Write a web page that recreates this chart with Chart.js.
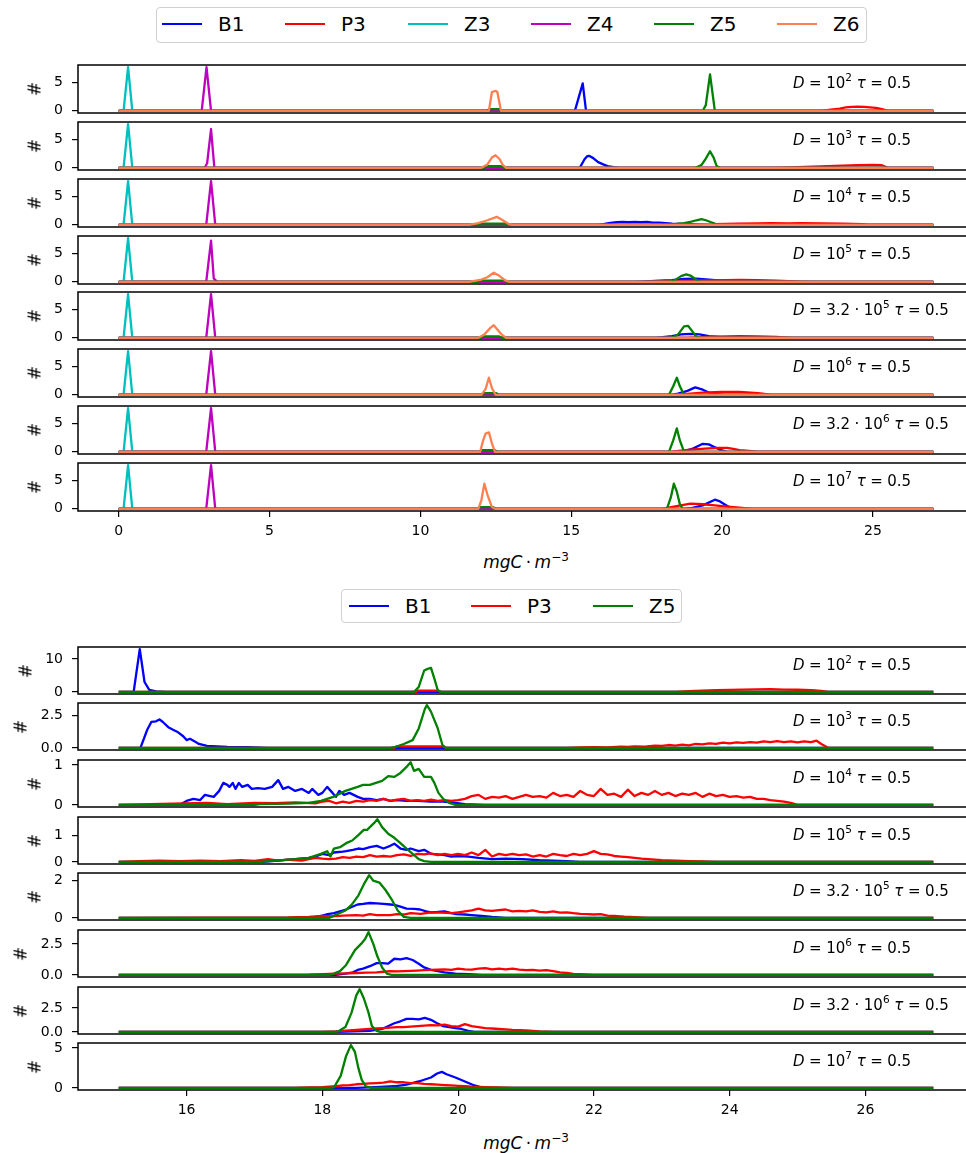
<!DOCTYPE html>
<html>
<head>
<meta charset="utf-8">
<script src="https://cdn.jsdelivr.net/npm/chart.js@4.4.1/dist/chart.umd.min.js"></script>
<style>
html, body { margin: 0; padding: 0; background: #fff; }
body { width: 966px; height: 1153px; overflow: hidden; position: relative; font-family: "DejaVu Sans", sans-serif; color: #000; }
canvas { position: absolute; left: 0; }
.lg { position: absolute; border: 1px solid #d0d0d0; border-radius: 4px; background: #fff; box-sizing: border-box; }
.lgl { position: absolute; width: 40px; height: 2.6px; }
.lgt { position: absolute; font-size: 20px; line-height: 20px; white-space: nowrap; }
.ann { position: absolute; left: 793px; font-size: 15px; line-height: 15px; white-space: nowrap; }
.ann sup { font-size: 10.5px; line-height: 0; position: relative; top: -1px; }
.ann .op { margin: 0 4.5px; }
.yl { position: absolute; font-size: 17px; line-height: 17px; transform: translate(-50%, -50%) rotate(-90deg); }
.xl { position: absolute; font-size: 17px; line-height: 17px; white-space: nowrap; transform: translate(-50%, -50%); }
.xl sup { font-size: 12px; line-height: 0; }
</style>
</head>
<body>
<script>
// Stacked histograms of carbon concentration per diffusion D (two groups of 8 panels).
Chart.defaults.font.family = "'DejaVu Sans', sans-serif";
Chart.defaults.font.size = 14;
Chart.defaults.color = "#000";

const topNames = ["B1", "P3", "Z3", "Z4", "Z5", "Z6"];
const topColors = ["#0000ff", "#ff0000", "#00bfbf", "#bf00bf", "#008000", "#ff7f50"];
const botNames = ["B1", "P3", "Z5"];
const botColors = ["#0000ff", "#ff0000", "#008000"];
const dCoef = ["", "", "", "", "3.2", "", "3.2", ""];
const dExp = ["2", "3", "4", "5", "5", "6", "6", "7"];
const tauVal = "0.5";
const topXTicks = [0, 5, 10, 15, 20, 25];
const botXTicks = [16, 18, 20, 22, 24, 26];
const topYTicks = [0, 5];
const topYText = ["0", "5"];
const botYTicks = [[0, 10], [0, 2.5], [0, 1], [0, 1], [0, 2], [0, 2.5], [0, 2.5], [0, 5]];
const botYText = [["0", "10"], ["0.0", "2.5"], ["0", "1"], ["0", "1"], ["0", "2"], ["0.0", "2.5"], ["0.0", "2.5"], ["0", "5"]];

// ---- top group: x from 0 to 27 ----
const topB1 = [
  [[0,0],[15.12,0],[15.38,4.8],[15.49,0],[27,0]],
  [[0,0],[15.28,0],[15.44,1.5],[15.52,2.0],[15.59,2.1],[15.73,1.7],[15.89,1.0],[16.06,0.6],[16.2,0.3],[16.4,0.1],[16.61,0],[27,0]],
  [[0,0],[15.9,0],[16.1,0.15],[16.3,0.35],[16.5,0.45],[16.71,0.5],[16.9,0.45],[17.11,0.5],[17.3,0.45],[17.52,0.5],[17.7,0.4],[17.93,0.4],[18.13,0.3],[18.34,0.2],[18.6,0.15],[18.95,0.1],[19.3,0.05],[19.6,0],[27,0]],
  [[0,0],[17.1,0],[17.32,0.05],[17.93,0.2],[18.34,0.3],[18.74,0.5],[19.15,0.55],[19.56,0.4],[19.97,0.2],[20.58,0.1],[21.39,0],[27,0]],
  [[0,0],[17.8,0],[18.03,0.1],[18.34,0.3],[18.64,0.6],[18.95,0.7],[19.25,0.6],[19.56,0.3],[19.97,0.1],[20.37,0],[27,0]],
  [[0,0],[18.3,0],[18.54,0.2],[18.85,0.7],[19.11,1.3],[19.36,0.9],[19.56,0.4],[19.87,0.1],[20.07,0],[27,0]],
  [[0,0],[18.6,0],[18.74,0.1],[19.05,0.6],[19.36,1.4],[19.56,1.3],[19.76,0.8],[19.97,0.3],[20.17,0],[27,0]],
  [[0,0],[18.7,0],[18.95,0.1],[19.36,0.6],[19.76,1.6],[19.93,1.3],[20.17,0.5],[20.37,0],[27,0]]
];
const topP3 = [
  [[0,0],[23.3,0],[23.6,0.2],[23.9,0.4],[24.1,0.6],[24.3,0.7],[24.5,0.75],[24.7,0.7],[24.9,0.6],[25.1,0.5],[25.3,0.3],[25.5,0],[27,0]],
  [[0,0],[21.6,0],[22.0,0.05],[22.5,0.1],[23.0,0.2],[23.5,0.3],[24.0,0.4],[24.5,0.45],[25.0,0.5],[25.3,0.45],[25.5,0],[27,0]],
  [[0,0],[19.6,0],[19.76,0.1],[20.5,0.2],[21.2,0.25],[21.6,0.3],[22.2,0.25],[22.6,0.3],[23.3,0.25],[24.0,0.2],[24.65,0.1],[24.86,0],[27,0]],
  [[0,0],[17.3,0],[17.6,0.05],[18.5,0.15],[19.56,0.25],[20.58,0.35],[21.19,0.3],[21.8,0.2],[22.62,0.05],[23.02,0],[27,0]],
  [[0,0],[18.8,0],[18.95,0.05],[19.76,0.2],[20.58,0.3],[21.19,0.25],[21.8,0.15],[22.21,0.05],[22.41,0],[27,0]],
  [[0,0],[18.2,0],[18.54,0.05],[19.36,0.4],[19.97,0.5],[20.58,0.5],[21.19,0.3],[21.6,0.05],[21.8,0],[27,0]],
  [[0,0],[18.1,0],[18.34,0.05],[18.95,0.4],[19.56,0.6],[19.87,0.7],[20.17,0.7],[20.37,0.5],[20.58,0.3],[20.99,0.1],[21.19,0],[27,0]],
  [[0,0],[18.0,0],[18.13,0.1],[18.54,0.5],[18.95,0.9],[19.36,0.8],[19.76,0.6],[20.17,0.4],[20.58,0.2],[20.99,0],[27,0]]
];
const topZ3 = [
  [[0,0],[0.16,0],[0.31,7.65],[0.45,0],[27,0]],
  [[0,0],[0.16,0],[0.31,7.65],[0.45,0],[27,0]],
  [[0,0],[0.16,0],[0.31,7.65],[0.45,0],[27,0]],
  [[0,0],[0.16,0],[0.31,7.65],[0.45,0],[27,0]],
  [[0,0],[0.16,0],[0.31,7.65],[0.45,0],[27,0]],
  [[0,0],[0.16,0],[0.31,7.65],[0.45,0],[27,0]],
  [[0,0],[0.16,0],[0.31,7.65],[0.45,0],[27,0]],
  [[0,0],[0.16,0],[0.31,7.65],[0.45,0],[27,0]]
];
const topZ4 = [
  [[0,0],[2.75,0],[2.91,7.65],[3.06,0],[27,0]],
  [[0,0],[2.85,0],[2.93,0.8],[3.06,6.8],[3.17,0],[27,0]],
  [[0,0],[2.9,0],[3.06,7.65],[3.2,0],[27,0]],
  [[0,0],[2.9,0],[3.06,7.2],[3.15,0.6],[3.26,0],[27,0]],
  [[0,0],[2.9,0],[3.06,7.65],[3.2,0],[27,0]],
  [[0,0],[2.9,0],[3.06,7.65],[3.2,0],[27,0]],
  [[0,0],[2.9,0],[3.06,7.65],[3.2,0],[27,0]],
  [[0,0],[2.9,0],[3.06,7.65],[3.2,0],[27,0]]
];
const topZ5 = [
  [[0,0],[12.2,0],[12.3,0.3],[12.6,0.3],[12.7,0],[19.36,0],[19.46,1.0],[19.6,6.4],[19.76,0],[27,0]],
  [[0,0],[12.1,0],[12.25,0.3],[12.65,0.3],[12.8,0],[19.11,0],[19.32,0.5],[19.46,1.6],[19.6,2.9],[19.72,1.8],[19.82,0.3],[19.93,0],[27,0]],
  [[0,0],[11.8,0],[12.0,0.2],[12.8,0.2],[13.0,0],[18.34,0],[18.54,0.2],[18.74,0.3],[18.95,0.5],[19.15,0.8],[19.32,1.0],[19.46,0.8],[19.66,0.4],[19.82,0.1],[19.97,0],[27,0]],
  [[0,0],[11.9,0],[12.05,0.2],[12.75,0.2],[12.9,0],[18.24,0],[18.44,0.3],[18.64,1.0],[18.81,1.3],[18.95,1.1],[19.11,0.5],[19.25,0],[27,0]],
  [[0,0],[12.0,0],[12.1,0.25],[12.6,0.25],[12.7,0],[18.34,0],[18.54,0.6],[18.74,2.0],[18.87,2.1],[18.99,1.3],[19.15,0.2],[19.25,0],[27,0]],
  [[0,0],[12.0,0],[12.1,0.3],[12.5,0.3],[12.6,0],[18.24,0],[18.38,1.5],[18.5,3.0],[18.6,1.5],[18.74,0],[27,0]],
  [[0,0],[11.95,0],[12.05,0.3],[12.45,0.3],[12.55,0],[18.24,0],[18.38,2.0],[18.5,4.1],[18.6,2.0],[18.74,0],[27,0]],
  [[0,0],[11.9,0],[12.0,0.3],[12.4,0.3],[12.5,0],[18.17,0],[18.3,2.0],[18.4,4.4],[18.5,3.0],[18.6,0.8],[18.7,0],[27,0]]
];
const topZ6 = [
  [[0,0],[12.27,0],[12.37,3.3],[12.5,3.5],[12.55,3.3],[12.67,0],[27,0]],
  [[0,0],[12.02,0],[12.22,0.6],[12.37,1.8],[12.49,2.2],[12.63,1.5],[12.73,0.5],[12.84,0],[27,0]],
  [[0,0],[11.61,0],[11.92,0.3],[12.22,0.8],[12.53,1.4],[12.73,0.8],[12.94,0.1],[13.04,0],[27,0]],
  [[0,0],[11.61,0],[12.02,0.4],[12.22,0.8],[12.43,1.6],[12.63,1.0],[12.8,0.3],[12.94,0],[27,0]],
  [[0,0],[11.92,0],[12.12,0.6],[12.33,1.8],[12.43,2.2],[12.53,1.6],[12.67,0.7],[12.84,0],[27,0]],
  [[0,0],[12.02,0],[12.16,1.0],[12.27,3.0],[12.37,1.2],[12.49,0],[27,0]],
  [[0,0],[11.98,0],[12.08,2.0],[12.16,3.2],[12.27,3.4],[12.37,1.5],[12.47,0],[27,0]],
  [[0,0],[11.92,0],[12.02,1.5],[12.12,4.4],[12.22,2.5],[12.37,0.3],[12.47,0],[27,0]]
];

// ---- bottom group: x from 15 to 27 ----
const botB1 = [
  [[15,0],[15.22,0],[15.31,13.0],[15.38,3.0],[15.45,0.6],[15.55,0.15],[15.7,0],[27,0]],
  [[15,0],[15.32,0],[15.42,1.4],[15.48,2.0],[15.55,2.05],[15.6,2.2],[15.65,2.0],[15.73,1.6],[15.8,1.4],[15.86,1.25],[15.95,0.9],[16.0,0.6],[16.05,0.7],[16.12,0.5],[16.18,0.3],[16.3,0.15],[16.45,0.12],[16.6,0.08],[16.9,0.05],[17.2,0],[27,0]],
  [[15,0],[15.9,0],[16.0,0.1],[16.1,0.15],[16.2,0.12],[16.27,0.25],[16.35,0.22],[16.4,0.2],[16.48,0.35],[16.54,0.55],[16.6,0.5],[16.63,0.45],[16.68,0.55],[16.72,0.4],[16.77,0.55],[16.82,0.45],[16.9,0.5],[16.96,0.4],[17.05,0.42],[17.15,0.4],[17.26,0.45],[17.35,0.62],[17.42,0.4],[17.5,0.45],[17.6,0.35],[17.7,0.4],[17.8,0.3],[17.85,0.4],[17.94,0.25],[18.0,0.3],[18.07,0.45],[18.15,0.3],[18.2,0.2],[18.25,0.35],[18.32,0.25],[18.4,0.3],[18.52,0.2],[18.6,0.15],[18.7,0.15],[18.8,0.12],[18.9,0.15],[19.0,0.1],[19.1,0.12],[19.24,0.1],[19.4,0.1],[19.6,0.08],[19.78,0.08],[19.96,0.05],[20.1,0.02],[20.4,0],[27,0]],
  [[15,0],[17.1,0],[17.26,0.03],[17.5,0.08],[17.6,0.1],[17.8,0.15],[17.9,0.2],[18.0,0.3],[18.1,0.25],[18.17,0.35],[18.3,0.38],[18.35,0.4],[18.45,0.45],[18.53,0.5],[18.6,0.48],[18.7,0.55],[18.8,0.6],[18.9,0.5],[19.0,0.6],[19.06,0.68],[19.15,0.5],[19.24,0.45],[19.3,0.5],[19.42,0.4],[19.5,0.45],[19.6,0.3],[19.7,0.28],[19.8,0.25],[19.9,0.2],[20.0,0.22],[20.15,0.2],[20.3,0.15],[20.5,0.1],[20.7,0.12],[20.95,0.1],[21.2,0.06],[21.4,0.05],[21.6,0.03],[21.8,0],[27,0]],
  [[15,0],[17.8,0],[17.9,0.05],[18.0,0.12],[18.08,0.2],[18.17,0.25],[18.26,0.35],[18.35,0.45],[18.44,0.6],[18.52,0.72],[18.6,0.75],[18.7,0.8],[18.8,0.78],[18.9,0.75],[19.0,0.72],[19.06,0.7],[19.15,0.6],[19.24,0.5],[19.35,0.48],[19.44,0.45],[19.53,0.35],[19.6,0.3],[19.7,0.32],[19.8,0.35],[19.9,0.25],[19.97,0.2],[20.1,0.18],[20.2,0.15],[20.35,0.1],[20.5,0.05],[20.7,0],[27,0]],
  [[15,0],[18.2,0],[18.34,0.1],[18.45,0.2],[18.52,0.4],[18.6,0.5],[18.7,0.7],[18.8,0.95],[18.88,0.95],[18.97,0.9],[19.06,1.3],[19.15,1.25],[19.24,1.35],[19.33,1.2],[19.42,0.9],[19.5,0.6],[19.6,0.4],[19.7,0.3],[19.8,0.2],[19.96,0.1],[20.15,0.05],[20.35,0],[27,0]],
  [[15,0],[18.2,0],[18.34,0.02],[18.7,0.1],[18.88,0.3],[19.06,0.9],[19.15,1.1],[19.24,1.35],[19.33,1.35],[19.42,1.3],[19.51,1.45],[19.6,1.25],[19.69,0.9],[19.78,0.6],[19.96,0.4],[20.05,0.3],[20.15,0.1],[20.24,0],[27,0]],
  [[15,0],[18.5,0],[18.7,0.05],[19.06,0.2],[19.24,0.4],[19.42,0.8],[19.6,1.3],[19.69,1.8],[19.76,2.0],[19.83,1.7],[19.96,1.3],[20.1,0.8],[20.24,0.3],[20.33,0.1],[20.42,0],[27,0]]
];
const botP3 = [
  [[15,0],[19.38,0],[19.42,0.4],[19.7,0.4],[19.74,0],[23.2,0],[23.4,0.2],[23.6,0.35],[23.8,0.5],[24.0,0.6],[24.2,0.7],[24.4,0.75],[24.6,0.8],[24.8,0.7],[25.0,0.65],[25.2,0.55],[25.35,0.3],[25.45,0],[27,0]],
  [[15,0],[19.06,0],[19.1,0.12],[19.78,0.12],[19.82,0],[21.6,0],[21.8,0.03],[22.0,0.06],[22.2,0.04],[22.4,0.1],[22.5,0.07],[22.6,0.12],[22.75,0.1],[22.9,0.18],[23.0,0.15],[23.1,0.22],[23.2,0.18],[23.3,0.25],[23.4,0.2],[23.5,0.3],[23.6,0.27],[23.7,0.35],[23.8,0.3],[23.9,0.4],[24.0,0.35],[24.1,0.42],[24.2,0.38],[24.3,0.45],[24.4,0.4],[24.5,0.5],[24.6,0.45],[24.7,0.52],[24.8,0.45],[24.9,0.5],[25.0,0.42],[25.1,0.5],[25.2,0.45],[25.28,0.55],[25.35,0.3],[25.45,0],[27,0]],
  [[15,0],[15.8,0.03],[16.3,0.05],[16.6,0.02],[17.0,0.05],[17.3,0.04],[17.6,0.06],[17.9,0.04],[18.0,0.08],[18.1,0.1],[18.2,0.04],[18.3,0.08],[18.4,0.05],[18.5,0.1],[18.6,0.08],[18.7,0.12],[18.8,0.1],[18.9,0.15],[19.0,0.1],[19.1,0.13],[19.2,0.15],[19.3,0.1],[19.4,0.12],[19.5,0.1],[19.6,0.13],[19.7,0.1],[19.8,0.12],[19.9,0.1],[20.0,0.12],[20.1,0.15],[20.2,0.22],[20.3,0.25],[20.4,0.15],[20.5,0.2],[20.6,0.18],[20.7,0.22],[20.8,0.15],[20.9,0.2],[21.0,0.25],[21.1,0.2],[21.2,0.22],[21.3,0.18],[21.4,0.3],[21.5,0.22],[21.6,0.25],[21.7,0.2],[21.8,0.35],[21.9,0.25],[22.0,0.22],[22.1,0.4],[22.2,0.25],[22.3,0.28],[22.4,0.2],[22.5,0.38],[22.6,0.22],[22.7,0.3],[22.8,0.25],[22.9,0.35],[23.0,0.25],[23.1,0.3],[23.2,0.22],[23.3,0.28],[23.4,0.25],[23.5,0.3],[23.6,0.2],[23.7,0.28],[23.8,0.22],[23.9,0.25],[24.0,0.2],[24.1,0.22],[24.2,0.18],[24.3,0.2],[24.4,0.15],[24.5,0.15],[24.6,0.12],[24.7,0.1],[24.8,0.08],[24.9,0.05],[25.0,0],[27,0]],
  [[15,0],[15.3,0.03],[15.6,0.05],[15.9,0.03],[16.2,0.05],[16.5,0.03],[16.8,0.06],[17.0,0.04],[17.2,0.1],[17.35,0.05],[17.5,0.08],[17.7,0.05],[17.8,0.1],[17.9,0.15],[18.0,0.12],[18.1,0.1],[18.2,0.12],[18.3,0.18],[18.4,0.15],[18.5,0.2],[18.6,0.18],[18.7,0.25],[18.8,0.2],[18.9,0.22],[19.0,0.2],[19.1,0.25],[19.2,0.28],[19.3,0.22],[19.4,0.3],[19.5,0.28],[19.6,0.32],[19.7,0.25],[19.8,0.3],[19.9,0.25],[20.0,0.3],[20.1,0.25],[20.2,0.35],[20.3,0.25],[20.4,0.45],[20.5,0.2],[20.6,0.3],[20.7,0.25],[20.8,0.3],[20.9,0.25],[21.0,0.28],[21.1,0.2],[21.2,0.25],[21.3,0.2],[21.4,0.3],[21.5,0.25],[21.6,0.22],[21.7,0.3],[21.8,0.25],[21.9,0.3],[22.0,0.4],[22.1,0.3],[22.2,0.28],[22.3,0.22],[22.4,0.2],[22.5,0.18],[22.6,0.15],[22.7,0.12],[22.8,0.1],[22.9,0.08],[23.0,0.06],[23.2,0.05],[23.4,0.03],[23.6,0.02],[23.8,0],[27,0]],
  [[15,0],[17.5,0.02],[17.8,0.05],[18.0,0.1],[18.15,0.08],[18.3,0.12],[18.5,0.15],[18.6,0.12],[18.7,0.2],[18.8,0.15],[19.0,0.15],[19.1,0.2],[19.2,0.18],[19.3,0.25],[19.45,0.22],[19.6,0.3],[19.75,0.28],[19.9,0.25],[20.0,0.3],[20.1,0.35],[20.2,0.4],[20.3,0.5],[20.4,0.4],[20.5,0.38],[20.6,0.42],[20.7,0.45],[20.8,0.35],[20.9,0.38],[21.0,0.35],[21.1,0.4],[21.2,0.32],[21.3,0.3],[21.4,0.35],[21.5,0.28],[21.6,0.3],[21.7,0.25],[21.8,0.22],[21.9,0.2],[22.0,0.18],[22.1,0.2],[22.2,0.12],[22.3,0.1],[22.45,0.06],[22.6,0.04],[22.8,0],[27,0]],
  [[15,0],[17.8,0.02],[18.0,0.05],[18.2,0.1],[18.35,0.12],[18.5,0.15],[18.65,0.18],[18.8,0.2],[18.9,0.25],[19.0,0.3],[19.1,0.28],[19.2,0.3],[19.3,0.32],[19.4,0.35],[19.5,0.38],[19.6,0.4],[19.7,0.42],[19.8,0.45],[19.9,0.4],[20.0,0.5],[20.1,0.45],[20.2,0.42],[20.3,0.5],[20.4,0.55],[20.5,0.45],[20.6,0.5],[20.7,0.45],[20.8,0.5],[20.9,0.42],[21.0,0.38],[21.1,0.4],[21.2,0.35],[21.3,0.38],[21.4,0.3],[21.5,0.2],[21.6,0.15],[21.7,0.08],[21.8,0.05],[22.0,0],[27,0]],
  [[15,0],[18.0,0],[18.2,0.05],[18.35,0.12],[18.5,0.2],[18.65,0.28],[18.8,0.35],[18.9,0.4],[19.0,0.45],[19.1,0.5],[19.2,0.5],[19.3,0.55],[19.4,0.6],[19.5,0.65],[19.6,0.7],[19.7,0.68],[19.8,0.75],[19.9,0.6],[20.0,0.55],[20.1,0.8],[20.2,0.6],[20.3,0.5],[20.4,0.4],[20.5,0.35],[20.6,0.3],[20.7,0.25],[20.8,0.2],[20.9,0.18],[21.0,0.15],[21.2,0.05],[21.4,0],[27,0]],
  [[15,0],[17.6,0],[17.8,0.05],[18.0,0.1],[18.1,0.15],[18.2,0.2],[18.3,0.3],[18.4,0.35],[18.5,0.45],[18.6,0.5],[18.7,0.55],[18.8,0.6],[18.9,0.65],[19.0,0.8],[19.1,0.7],[19.2,0.7],[19.3,0.6],[19.4,0.6],[19.5,0.5],[19.6,0.45],[19.7,0.4],[19.8,0.35],[19.9,0.3],[20.0,0.25],[20.1,0.2],[20.2,0.15],[20.3,0.12],[20.4,0.1],[20.6,0.05],[20.8,0],[27,0]]
];
const botZ5 = [
  [[15,0],[19.35,0],[19.42,1.5],[19.5,6.5],[19.55,7.0],[19.6,7.3],[19.65,4.0],[19.7,0.5],[19.75,0],[27,0]],
  [[15,0],[19.0,0],[19.06,0.05],[19.2,0.3],[19.33,0.6],[19.42,1.5],[19.51,3.0],[19.54,3.3],[19.6,2.8],[19.7,1.5],[19.77,0.2],[19.82,0],[27,0]],
  [[15,0],[17.0,0],[17.08,0.02],[17.5,0.03],[17.8,0.05],[17.98,0.1],[18.16,0.2],[18.34,0.35],[18.43,0.4],[18.52,0.45],[18.6,0.5],[18.7,0.5],[18.79,0.55],[18.88,0.6],[18.97,0.72],[19.06,0.7],[19.15,0.8],[19.24,0.95],[19.3,1.07],[19.35,0.85],[19.42,0.9],[19.5,0.7],[19.6,0.7],[19.65,0.55],[19.71,0.3],[19.78,0.15],[19.87,0.05],[19.96,0],[27,0]],
  [[15,0],[17.1,0],[17.17,0.02],[17.6,0.1],[17.8,0.15],[17.98,0.3],[18.07,0.4],[18.12,0.2],[18.17,0.5],[18.26,0.55],[18.35,0.7],[18.44,0.8],[18.53,1.0],[18.61,1.2],[18.66,1.2],[18.7,1.3],[18.76,1.45],[18.81,1.6],[18.88,1.3],[18.97,1.05],[19.06,0.9],[19.15,0.7],[19.24,0.5],[19.33,0.3],[19.42,0.1],[19.5,0.03],[19.6,0],[27,0]],
  [[15,0],[18.1,0],[18.16,0.1],[18.34,0.4],[18.43,0.7],[18.53,1.2],[18.61,1.8],[18.69,2.3],[18.75,2.0],[18.84,1.9],[18.93,1.5],[19.02,1.0],[19.11,0.4],[19.2,0.05],[19.3,0],[27,0]],
  [[15,0],[18.1,0],[18.17,0.1],[18.26,0.3],[18.35,0.8],[18.48,2.0],[18.57,2.5],[18.63,2.9],[18.68,3.45],[18.75,2.5],[18.81,1.5],[18.88,0.6],[18.95,0.1],[19.02,0],[27,0]],
  [[15,0],[18.18,0],[18.23,0.05],[18.34,0.5],[18.43,2.0],[18.5,3.8],[18.55,4.45],[18.61,3.5],[18.68,2.0],[18.73,0.6],[18.8,0.1],[18.85,0],[27,0]],
  [[15,0],[18.1,0],[18.17,0.05],[18.27,1.5],[18.35,4.0],[18.42,5.35],[18.48,4.5],[18.53,2.5],[18.58,1.0],[18.64,0.2],[18.72,0],[27,0]]
];

// ---- layout ----
const topTops = [65, 122, 179, 236, 292, 349, 406, 463];
const botTops = [647, 703, 760, 817, 873, 930, 987, 1043];
const AX_LEFT = 78, AX_RIGHT = 974, CW = 980, TICK = 6, TPAD = 9, XAXIS_H = 34, PADV = 10;

const frame = {
  id: "frame",
  afterDatasetsDraw(c) {
    const a = c.chartArea, x = c.ctx;
    x.save(); x.strokeStyle = "#000"; x.lineWidth = 1.5;
    x.strokeRect(a.left, a.top, a.right - a.left, a.bottom - a.top);
    x.restore();
  }
};

const meas = document.createElement("canvas").getContext("2d");
meas.font = "14px 'DejaVu Sans'";

function el(cls, html, css) {
  const d = document.createElement("div");
  d.className = cls; d.innerHTML = html; Object.assign(d.style, css);
  document.body.appendChild(d); return d;
}

function panel(o) {
  const cv = document.createElement("canvas");
  const h = o.h + PADV + (o.showX ? XAXIS_H : PADV);
  cv.width = CW; cv.height = h;
  cv.style.width = CW + "px"; cv.style.height = h + "px"; cv.style.top = (o.top - PADV) + "px";
  document.body.appendChild(cv);
  const m = Math.max(...o.series.flat().map(p => p[1]));
  const n = o.series.length;
  new Chart(cv, {
    type: "line",
    data: { datasets: o.series.map((d, i) => ({
      label: o.names[i], data: d, borderColor: o.colors[i], backgroundColor: o.colors[i],
      borderWidth: 2.3, pointRadius: 0, tension: 0, fill: false, order: n - i, clip: 0,
      borderJoinStyle: "round"
    })) },
    options: {
      responsive: false, animation: false, events: [],
      layout: { padding: { left: 0, right: CW - AX_RIGHT, top: PADV, bottom: o.showX ? 0 : PADV } },
      plugins: { legend: { display: false }, tooltip: { enabled: false } },
      scales: {
        x: { type: "linear", min: o.xmin, max: o.xmax, display: o.showX,
             afterFit: s => { if (o.showX) s.height = XAXIS_H; s.paddingLeft = 0; s.paddingRight = 0; },
             afterBuildTicks: s => { s.ticks = o.xTicks.map(v => ({ value: v })); },
             ticks: { padding: 6, maxRotation: 0, autoSkip: false, font: { size: 14 }, callback: v => String(v) },
             grid: { drawOnChartArea: false, tickLength: TICK, color: "#000", lineWidth: 1.2 },
             border: { display: false } },
        y: { type: "linear", min: -0.05 * m, max: 1.05 * m,
             afterFit: s => { s.width = AX_LEFT; s.paddingTop = 0; s.paddingBottom = 0; },
             afterBuildTicks: s => { s.ticks = o.yTicks.map(v => ({ value: v })); },
             ticks: { padding: TPAD, autoSkip: false, font: { size: 14 }, callback: (v, i) => o.yText[i] },
             grid: { drawOnChartArea: false, tickLength: TICK, color: "#000", lineWidth: 1.2 },
             border: { display: false } }
      }
    },
    plugins: [frame]
  });
  // y label "#", placed left of the widest tick label
  const w = Math.max(...o.yText.map(t => meas.measureText(t).width));
  el("yl", "#", { left: (AX_LEFT - TICK - TPAD - w - 19.5) + "px", top: (o.top + o.h / 2) + "px" });
  const coef = o.coef ? o.coef + '<span class="op">·</span>' : "";
  el("ann", `<i>D</i><span class="op">=</span>${coef}10<sup>${o.exp}</sup>&nbsp;<i>τ</i><span class="op">=</span>${tauVal}`,
     { top: (o.top + 10.5) + "px" });
}

function legend(box, names, colors, x0, stride, yc) {
  el("lg", "", { left: box[0] + "px", top: box[1] + "px", width: box[2] + "px", height: box[3] + "px" });
  names.forEach((nm, i) => {
    el("lgl", "", { left: (x0 + i * stride) + "px", top: (yc - 1.3) + "px", background: colors[i] });
    el("lgt", nm, { left: (x0 + i * stride + 56) + "px", top: (yc - 10) + "px" });
  });
}

legend([156, 7, 711, 36], topNames, topColors, 162, 123, 24);
legend([341, 589, 341, 34], botNames, botColors, 349, 122, 606);

const topSeries = [topB1, topP3, topZ3, topZ4, topZ5, topZ6];
topTops.forEach((t, k) => panel({
  top: t, h: 48, showX: k === 7, xmin: -1.35, xmax: 28.35, xTicks: topXTicks,
  yTicks: topYTicks, yText: topYText, names: topNames, colors: topColors,
  series: topSeries.map(s => s[k]), coef: dCoef[k], exp: dExp[k]
}));
const botSeries = [botB1, botP3, botZ5];
botTops.forEach((t, k) => panel({
  top: t, h: 47, showX: k === 7, xmin: 14.4, xmax: 27.6, xTicks: botXTicks,
  yTicks: botYTicks[k], yText: botYText[k], names: botNames, colors: botColors,
  series: botSeries.map(s => s[k]), coef: dCoef[k], exp: dExp[k]
}));

const xTitle = "<i>mgC</i>&thinsp;·&thinsp;<i>m</i><sup>−3</sup>";
el("xl", xTitle, { left: "526px", top: "562px" });
el("xl", xTitle, { left: "526px", top: "1143px" });
</script>
</body>
</html>
